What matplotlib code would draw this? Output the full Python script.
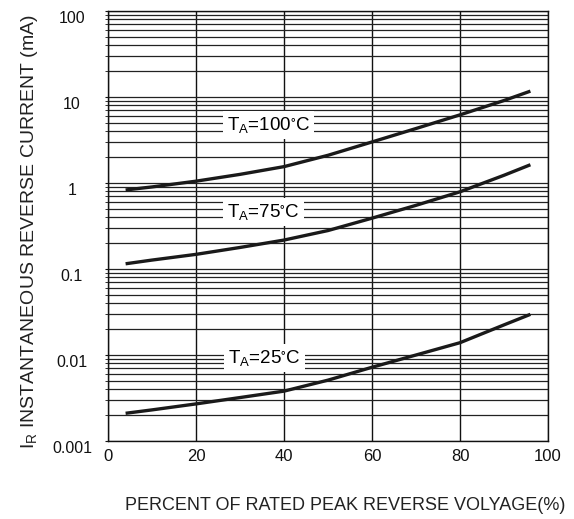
import matplotlib
matplotlib.use("Agg")
import matplotlib.pyplot as plt
import matplotlib.transforms as mtransforms
from matplotlib.ticker import LogLocator, NullFormatter, FixedLocator
import numpy as np

plt.rcParams['font.family'] = ['Liberation Sans', 'DejaVu Sans']
plt.rcParams['mathtext.fontset'] = 'custom'
plt.rcParams['mathtext.rm'] = 'Liberation Sans'

# percent of rated peak reverse voltage
volt_pct = [4, 10, 20, 30, 40, 50, 60, 70, 80, 90, 96]
# reverse current (mA)
ir_100c = [0.83, 0.90, 1.05, 1.26, 1.55, 2.1, 3.0, 4.3, 6.2, 9.1, 11.7]
ir_75c = [0.115, 0.127, 0.148, 0.178, 0.217, 0.28, 0.39, 0.55, 0.79, 1.23, 1.63]
ir_25c = [0.0021, 0.0023, 0.0027, 0.0032, 0.0038, 0.0051, 0.0072, 0.010, 0.0139, 0.0224, 0.0297]

x_ticks = [0, 20, 40, 60, 80, 100]
y_ticks = [0.001, 0.01, 0.1, 1, 10, 100]
y_tick_labels = ['0.001', '0.01', '0.1', '1', '10', '100']

fig = plt.figure(figsize=(5.74, 5.19), dpi=100)
ax = fig.add_axes([108/574, 78/519, 440/574, 430/519])

ax.set_yscale('log')
ax.set_xlim(0, 100)
ax.set_ylim(0.001, 100)

# grid
ax.yaxis.set_major_locator(FixedLocator(y_ticks))
ax.yaxis.set_minor_locator(LogLocator(base=10, subs=np.arange(2, 10), numticks=20))
ax.yaxis.set_minor_formatter(NullFormatter())
ax.set_yticklabels(y_tick_labels)
ax.set_xticks(x_ticks)
ax.grid(True, which='both', axis='y', color='#222222', lw=0.9)
ax.grid(True, which='major', axis='x', color='#111111', lw=1.0)

for s in ax.spines.values():
    s.set_linewidth(1.0)
    s.set_color('#111111')

ax.tick_params(axis='both', which='both', labelsize=11.5, colors='#111111')
ax.tick_params(axis='y', which='both', length=2, direction='out', pad=24)
ax.tick_params(axis='x', which='both', length=0, pad=6, labelsize=12)

# y labels sit centred and a bit low in the original
shift = mtransforms.ScaledTranslation(0, -6/100, fig.dpi_scale_trans)
for t in ax.get_yticklabels():
    t.set_horizontalalignment('center')
    t.set_transform(t.get_transform() + shift)

for ys in [ir_100c, ir_75c, ir_25c]:
    ax.plot(volt_pct, ys, color='#1a1a1a', lw=2.4, solid_capstyle='butt', zorder=4)

box = dict(facecolor='white', edgecolor='none', pad=3)
lbl_100 = r'T$\mathregular{_A}$=100$\mathregular{^{\circ}}$C'
lbl_75 = r'T$\mathregular{_A}$=75$\mathregular{^{\circ}}$C'
lbl_25 = r'T$\mathregular{_A}$=25$\mathregular{^{\circ}}$C'
ax.text(36.5, 4.7, lbl_100, fontsize=13.5, ha='center', va='center', bbox=box, zorder=3)
ax.text(35.3, 0.46, lbl_75, fontsize=13.5, ha='center', va='center', bbox=box, zorder=3)
ax.text(35.5, 0.0092, lbl_25, fontsize=13.5, ha='center', va='center', bbox=box, zorder=3)

fig.text(30/574, 1 - 232/519, r'I$\mathregular{_R}$ INSTANTANEOUS REVERSE CURRENT (mA)',
         rotation=90, ha='center', va='center', fontsize=14, color='#222222')
fig.text(345/574, 1 - 505/519, 'PERCENT OF RATED PEAK REVERSE VOLYAGE(%)',
         ha='center', va='center', fontsize=13, color='#222222')

fig.savefig('out.png', dpi=100)
